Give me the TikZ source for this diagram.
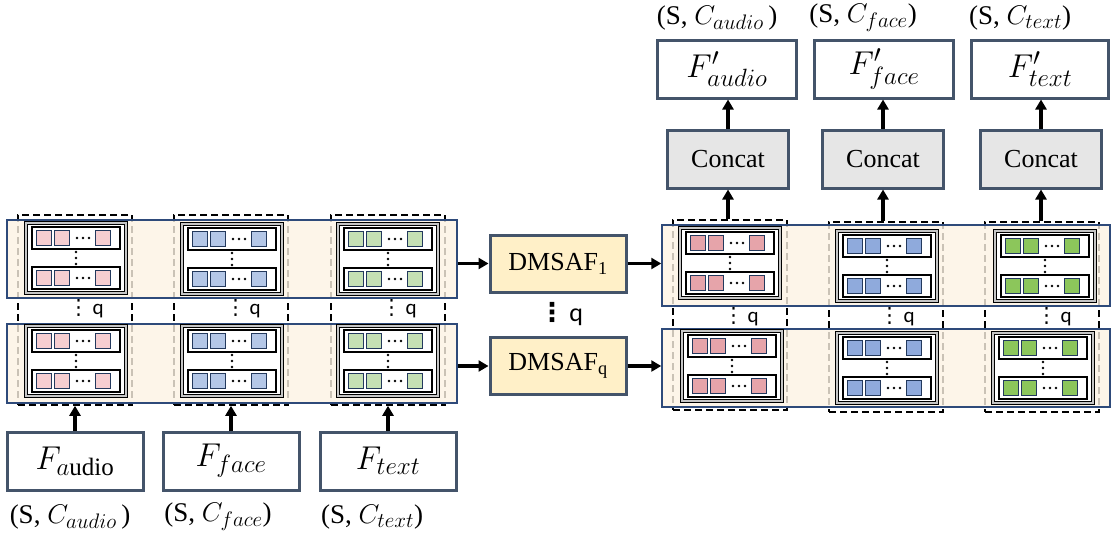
\RequirePackage{fix-cm}
\documentclass[tikz,border=0pt]{standalone}
\usepackage{amsmath}
\usepackage{fontspec}
\setmainfont{Liberation Serif}
\newfontfamily\qfont{Carlito}
\newfontfamily\symfont{DejaVu Sans}
\usetikzlibrary{arrows.meta,positioning,calc}
\DeclareMathSizes{33}{33}{25}{19}
\DeclareMathSizes{27}{27}{21}{16}

\definecolor{slate}{HTML}{44546A}
\definecolor{panelline}{HTML}{2E4A7A}
\definecolor{cream}{HTML}{FDF3E4}
\definecolor{navy}{HTML}{23395D}
\definecolor{pinkL}{HTML}{F6CED1}
\definecolor{blueL}{HTML}{B4C7E7}
\definecolor{greenL}{HTML}{C5E0B4}
\definecolor{pinkR}{HTML}{E6A4AA}
\definecolor{blueR}{HTML}{8FAADC}
\definecolor{greenR}{HTML}{8CC65B}
\definecolor{fuseyellow}{HTML}{FFF0C8}
\definecolor{catgray}{HTML}{E6E6E6}

\begin{document}
\begin{tikzpicture}[x=1pt,y=-1pt,
    col/.style={draw=black, line width=1.6pt, dash pattern=on 7pt off 4pt, minimum width=114pt, minimum height=190pt, inner sep=0pt},
    panel/.style={draw=panelline, line width=1.5pt, fill=cream, fill opacity=0.8, inner sep=0pt},
    featbox/.style={draw=black, line width=1.7pt, double=gray!45, double distance=1.3pt, fill=white, minimum width=100pt, minimum height=70pt, inner sep=0pt},
    rowbox/.style={draw=black, line width=2.2pt, fill=white},
    cell/.style={draw=navy, line width=1.8pt},
    modbox/.style={draw=slate, line width=3pt, fill=white, minimum width=136pt, minimum height=58pt, inner sep=0pt, font=\fontsize{33}{36}\selectfont},
    fusebox/.style={draw=slate, line width=3pt, fill=fuseyellow, minimum width=136pt, minimum height=57pt, inner sep=0pt, font=\fontsize{26}{30}\selectfont},
    catbox/.style={draw=slate, line width=3pt, fill=catgray, minimum width=121pt, minimum height=58pt, inner sep=0pt, font=\fontsize{26}{30}\selectfont},
    dimlabel/.style={font=\fontsize{27}{30}\selectfont},
    qlabel/.style={font=\fontsize{21}{24}\selectfont},
    arr/.style={line width=3.5pt, -{Triangle[length=10pt,width=11pt]}}]

    % Page
    \fill[white] (0,0) rectangle (1116,538);
    \useasboundingbox (0,0) rectangle (1116,538);

    % Dashed modality columns
    \node[col] (la) at (75,310) {};
    \node[col] (lf) at (231,310) {};
    \node[col] (lt) at (388,310) {};
    \node[col] (ra) at (730,315) {};
    \node[col] (rf) at (886,317) {};
    \node[col] (rt) at (1042,317) {};

    % Group panels
    \node[panel, minimum width=450pt, minimum height=78pt] (lp1) at (232,259) {};
    \node[panel, minimum width=450pt, minimum height=79pt] (lp2) at (232,363.5) {};
    \node[panel, minimum width=448pt, minimum height=81pt] (rp1) at (886,265.5) {};
    \node[panel, minimum width=448pt, minimum height=78pt] (rp2) at (886,368) {};

    % Feature blocks
    \foreach \n/\x/\y/\c in {la1/76/258/pinkL, lf1/232/259/blueL, lt1/388/259/greenL,
                             la2/76/361/pinkL, lf2/232/361/blueL, lt2/388/361/greenL,
                             ra1/730/263/pinkR, rf1/887/266/blueR, rt1/1045/266/greenR,
                             ra2/732/366/pinkR, rf2/887/368/blueR, rt2/1043/368/greenR}{
        \node[featbox] (\n) at (\x,\y) {};
        \foreach \r in {-20,20}{
            \draw[rowbox] (\x-44,\y+\r-11) rectangle (\x+44,\y+\r+11);
            \foreach \s in {-32,-14,27}
                \draw[cell, fill=\c] (\x+\s-7.5,\y+\r-7.5) rectangle (\x+\s+7.5,\y+\r+7.5);
            \foreach \d in {1,7,13}
                \fill (\x+\d,\y+\r) circle (1.4pt);
        }
        \foreach \d in {-6,0,6}
            \fill (\x,\y+\d) circle (1.4pt);
    }

    % Repetition marks
    \node[qlabel] (lqa) at (86,309) {{\symfont ⋮}\,{\qfont q}};
    \node[qlabel] (lqf) at (243,309) {{\symfont ⋮}\,{\qfont q}};
    \node[qlabel] (lqt) at (399,309) {{\symfont ⋮}\,{\qfont q}};
    \node[qlabel] (rqa) at (741,317) {{\symfont ⋮}\,{\qfont q}};
    \node[qlabel] (rqf) at (897,317) {{\symfont ⋮}\,{\qfont q}};
    \node[qlabel] (rqt) at (1054,317) {{\symfont ⋮}\,{\qfont q}};
    \node[font=\fontsize{26}{30}\selectfont] (mq) at (561,314) {{\symfont\bfseries ⋮}\,{\qfont q}};

    % Inputs
    \node[modbox] (fa) at (75,461) {$F_{a\mathrm{udio}}$};
    \node[modbox] (ff) at (231,461) {$F_{face}$};
    \node[modbox] (ft) at (388,461) {$F_{text}$};
    \node[dimlabel] (sa) at (70,517) {(S, $C_{audio}$\,)};
    \node[dimlabel] (sf) at (218,517) {(S, $C_{face}$)};
    \node[dimlabel] (st) at (372,517) {(S, $C_{text}$)};

    % Fusion blocks
    \node[fusebox] (d1) at (558,263.5) {DMSAF\textsubscript{1}};
    \node[fusebox] (dq) at (558,366) {DMSAF\textsubscript{q}};

    % Outputs
    \node[catbox] (ca) at (728,159) {Concat};
    \node[catbox] (cf) at (883,159) {Concat};
    \node[catbox] (ct) at (1041,159) {Concat};
    \node[modbox, minimum width=139pt] (oa) at (727,69) {$F'_{audio}$};
    \node[modbox, minimum width=139pt] (of) at (884,69) {$F'_{face}$};
    \node[modbox, minimum width=137pt] (ot) at (1040,69) {$F'_{text}$};
    \node[dimlabel] (sa2) at (717,18) {(S, $C_{audio}$\,)};
    \node[dimlabel] (sf2) at (863,18) {(S, $C_{face}$)};
    \node[dimlabel] (st2) at (1020,18) {(S, $C_{text}$)};

    % Arrows
    \draw[arr] (fa.north) -- (la.south);
    \draw[arr] (ff.north) -- (lf.south);
    \draw[arr] (ft.north) -- (lt.south);
    \draw[arr] (lp1.east |- d1) -- (d1.west);
    \draw[arr] (d1.east) -- (d1.east -| rp1.west);
    \draw[arr] (lp2.east |- dq) -- (dq.west);
    \draw[arr] (dq.east) -- (dq.east -| rp2.west);
    \draw[arr] (ca.south |- ra.north) -- (ca.south);
    \draw[arr] (cf.south |- rf.north) -- (cf.south);
    \draw[arr] (ct.south |- rt.north) -- (ct.south);
    \draw[arr] (ca.north) -- (ca.north |- oa.south);
    \draw[arr] (cf.north) -- (cf.north |- of.south);
    \draw[arr] (ct.north) -- (ct.north |- ot.south);
\end{tikzpicture}
\end{document}
